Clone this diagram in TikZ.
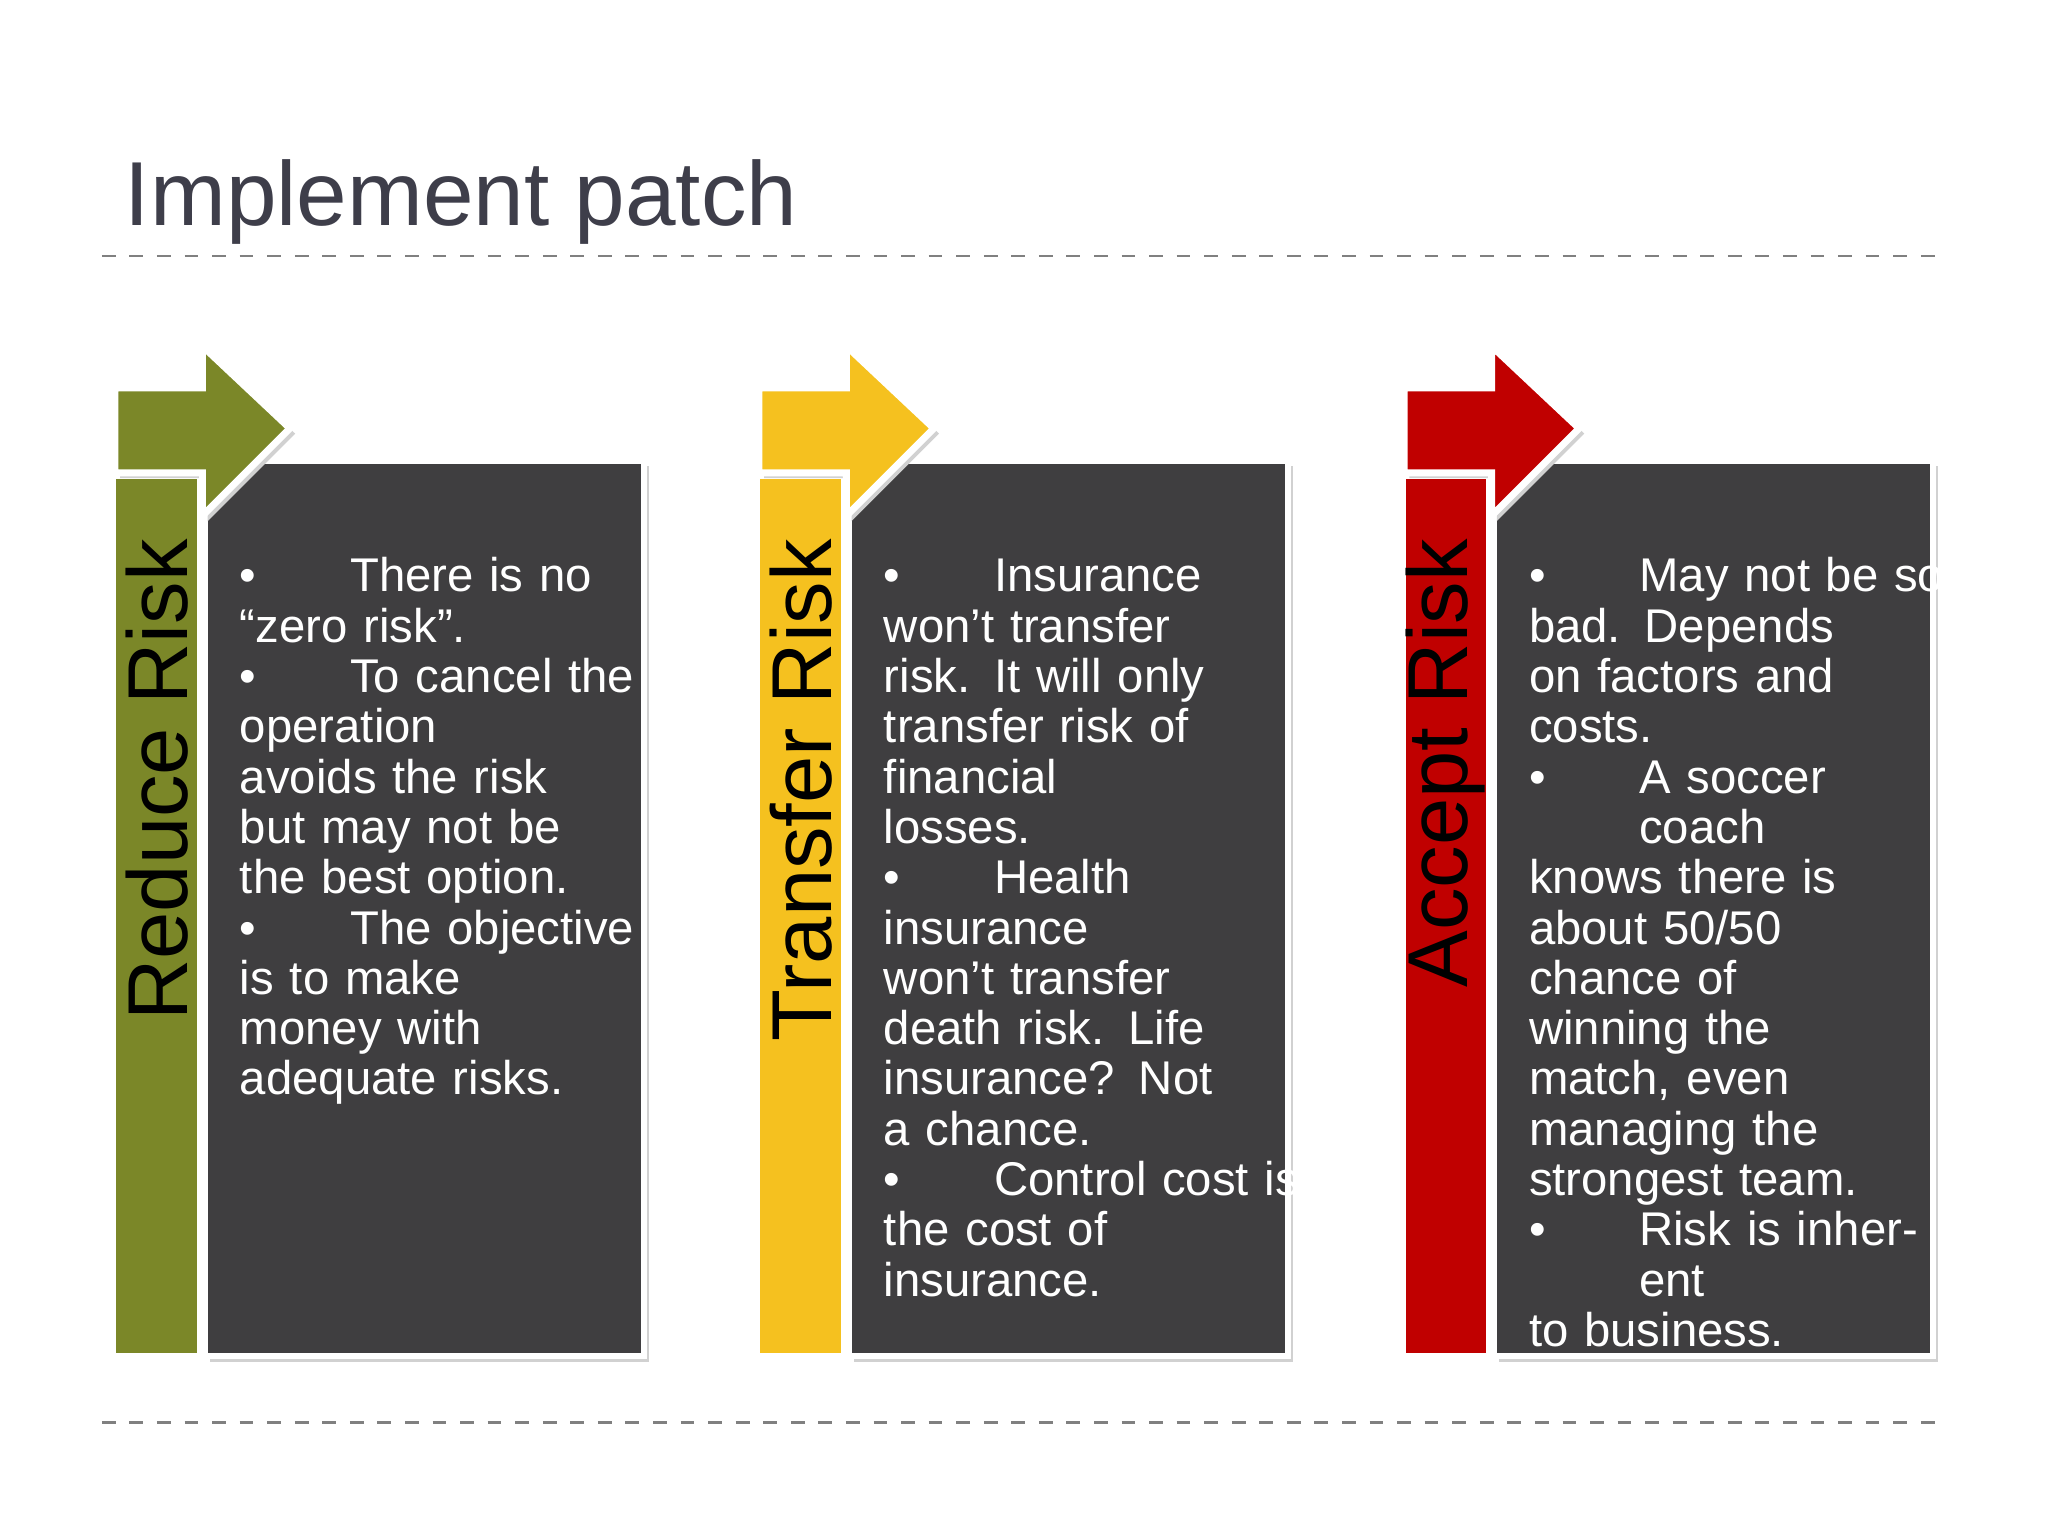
\documentclass[tikz,border=0pt]{standalone}
\usepackage{fontspec}
\setmainfont{Liberation Sans}
\definecolor{dk}{HTML}{3F3E40}
\definecolor{gr}{HTML}{7B8728}
\definecolor{ye}{HTML}{F5C11F}
\definecolor{rd}{HTML}{C00000}
\definecolor{tt}{HTML}{3E3E4A}
\newcommand{\bi}{\par\hangindent=24pt\hangafter=1\noindent\makebox[24pt][l]{\textbullet}}
\begin{document}
\begin{tikzpicture}[x=0.01cm,y=-0.01cm,
  box/.style={fill=dk,draw=white,line width=1.2pt},
  shad/.style={fill=black!18},
  txt/.style={anchor=north west,text=white,text width=3.2cm,align=left,inner sep=0pt,font=\fontsize{10.3}{10.95}\selectfont},
  vlab/.style={rotate=90,anchor=east,inner sep=0pt,font=\fontsize{18.5}{20}\selectfont}]
\useasboundingbox (0,0) rectangle (1568,1176);
\node[anchor=base west,text=tt,inner sep=0pt,font=\fontsize{19.8}{24}\selectfont] (title) at (95,173) {Implement patch};
\draw[gray,dashed,line width=0.6pt] (78,196) coordinate (d1) -- (1490,196) coordinate (d2);
\draw[gray,dashed,line width=0.6pt] (78,1089) coordinate (d3) -- (1490,1089) coordinate (d4);
\foreach \dx/\col/\lab/\nm in {0/gr/Reduce Risk/a,493/ye/Transfer Risk/b,987/rd/Accept Risk/c}{
 \begin{scope}[xshift=\dx*0.01cm]
  \fill[shad] (161,357) rectangle (497,1043);
  \fill[box] (157,353) rectangle (493,1038);
  \fill[\col,draw=white,line width=1.2pt] (87,365) rectangle (153,1038);
  \fill[shad] (92,301)--(159,301)--(159,269)--(226,332)--(159,399)--(159,366)--(92,366)--cycle;
  \fill[\col,draw=white,line width=1.5pt] (88,297)--(155,297)--(155,265)--(222,328)--(155,395)--(155,362)--(88,362)--cycle;
  \node[vlab] (\nm) at (120,412) {\lab};
 \end{scope}}
\node[txt] (t1) at (183,414) {%
\bi There is no\\ “zero risk”.
\bi To cancel the\\ operation\\ avoids the risk\\ but may not be\\ the best option.
\bi The objective\\ is to make\\ money with\\ adequate risks.};
\node[txt] (t2) at (676,414) {%
\bi Insurance\\ won’t transfer\\ risk. It will only\\ transfer risk of\\ financial\\ losses.
\bi Health\\ insurance\\ won’t transfer\\ death risk. Life\\ insurance? Not\\ a chance.
\bi Control cost is\\ the cost of\\ insurance.};
\node[txt] (t3) at (1170,414) {%
\bi May not be so\\ bad. Depends\\ on factors and\\ costs.
\bi A soccer coach\\ knows there is\\ about 50/50\\ chance of\\ winning the\\ match, even\\ managing the\\ strongest team.
\bi Risk is inherent\\ to business.};
\end{tikzpicture}
\end{document}
